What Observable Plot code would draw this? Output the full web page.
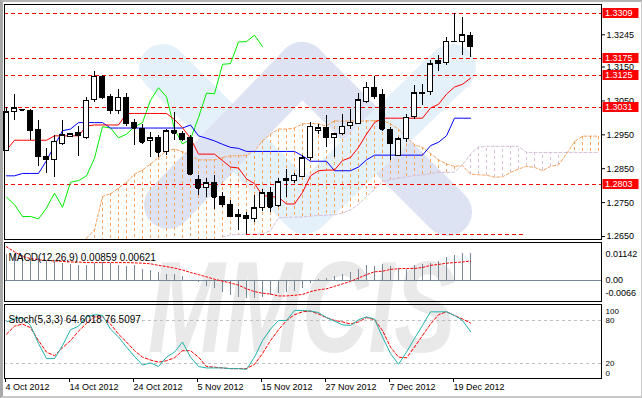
<!DOCTYPE html>
<html><head><meta charset="utf-8">
<script src="https://cdn.jsdelivr.net/npm/d3@7"></script>
<script src="https://cdn.jsdelivr.net/npm/@observablehq/plot@0.6"></script>
<style>
html,body{margin:0;padding:0;background:#fff;}
#wrap{position:relative;width:642px;height:398px;overflow:hidden;background:#fff;font-family:"Liberation Sans",Arial,sans-serif;}
.layer{position:absolute;left:0;}
#border{position:absolute;left:0;top:0;width:642px;height:398px;box-sizing:border-box;border-top:2px solid #b4b4b4;border-left:3px solid #a8a8a8;border-right:1px solid #c8c8c8;border-bottom:2px solid #c8c8c8;pointer-events:none;}
</style></head><body>
<div id="wrap">
  <svg id="bg" class="layer" style="top:0" width="642" height="398"></svg>
  <div id="main" class="layer" style="top:0"></div>
  <div id="macd" class="layer" style="top:240px"></div>
  <div id="stoch" class="layer" style="top:301px"></div>
  <div id="border"></div>
</div>
<script>
// ---------- data ----------
const dateLabels = ["4 Oct 2012","14 Oct 2012","24 Oct 2012","5 Nov 2012","15 Nov 2012","27 Nov 2012","7 Dec 2012","19 Dec 2012"];
const dateBars = [0,8,16,24,32,40,48,56];

const open  = [1.2903,1.3016,1.3022,1.3021,1.2964,1.2885,1.2877,1.2924,1.2944,1.2954,
               1.2940,1.3052,1.3121,1.3062,1.3019,1.3060,1.2984,1.2967,1.2931,1.2940,
               1.2898,1.2962,1.2952,1.2940,1.2818,1.2793,1.2808,1.2768,1.2744,1.2712,
               1.2710,1.2702,1.2734,1.2778,1.2741,1.2820,1.2813,1.2827,1.2881,1.2962,
               1.2970,1.2941,1.2952,1.2977,1.2981,1.3048,1.3089,1.3067,1.2965,1.2888,
               1.2937,1.3003,1.3073,1.3075,1.3168,1.3161,1.3224,1.3225,1.3241];
const high  = [1.3030,1.3070,1.3025,1.3026,1.2991,1.2911,1.2947,1.2991,1.2955,1.2976,
               1.3060,1.3138,1.3126,1.3070,1.3084,1.3073,1.2996,1.2981,1.2957,1.2947,
               1.2967,1.3016,1.2959,1.2947,1.2829,1.2820,1.2829,1.2780,1.2756,1.2731,
               1.2721,1.2771,1.2790,1.2795,1.2820,1.2849,1.2836,1.2888,1.2986,1.2981,
               1.3006,1.2955,1.3011,1.3026,1.3072,1.3104,1.3121,1.3085,1.2972,1.2942,
               1.3011,1.3094,1.3099,1.3170,1.3185,1.3237,1.3307,1.3296,1.3251];
const low   = [1.2900,1.2991,1.3020,1.2932,1.2856,1.2836,1.2823,1.2918,1.2941,1.2886,
               1.2936,1.3045,1.3055,1.3011,1.3011,1.2976,1.2918,1.2920,1.2883,1.2883,
               1.2888,1.2932,1.2930,1.2829,1.2771,1.2766,1.2731,1.2736,1.2707,1.2668,
               1.2656,1.2690,1.2725,1.2721,1.2736,1.2764,1.2805,1.2824,1.2874,1.2952,
               1.2913,1.2883,1.2947,1.2967,1.2979,1.3042,1.3055,1.2960,1.2874,1.2885,
               1.2927,1.2996,1.3035,1.3065,1.3138,1.3153,1.3222,1.3185,1.3178];
const close = [1.3016,1.3029,1.3023,1.2962,1.2886,1.2876,1.2929,1.2949,1.2952,1.2947,
               1.3050,1.3121,1.3060,1.3021,1.3060,1.2983,1.2969,1.2928,1.2940,1.2898,
               1.2960,1.2954,1.2935,1.2834,1.2793,1.2807,1.2766,1.2744,1.2709,1.2709,
               1.2702,1.2734,1.2778,1.2736,1.2810,1.2815,1.2829,1.2881,1.2974,1.2970,
               1.2941,1.2952,1.2974,1.2986,1.3052,1.3089,1.3062,1.2967,1.2923,1.2937,
               1.3001,1.3073,1.3071,1.3158,1.3160,1.3224,1.3225,1.3244,1.3210];

const tenkan = [1.2905,1.2934,1.2934,1.2934,1.2934,1.2934,1.2947,1.2947,1.2947,1.2947,
                1.2976,1.2979,1.2979,1.2979,1.2979,1.3013,1.3013,1.3013,1.3013,1.3013,
                1.3013,1.2995,1.2971,1.2940,1.2893,1.2893,1.2893,1.2874,1.2855,1.2852,
                1.2820,1.2806,1.2771,1.2768,1.2766,1.2746,1.2746,1.2780,1.2829,1.2844,
                1.2846,1.2846,1.2874,1.2883,1.2913,1.2952,1.2986,1.2999,1.2999,1.2999,
                1.2999,1.2999,1.2999,1.3029,1.3040,1.3070,1.3091,1.3099,1.3117];
const kijun  = [1.2829,1.2829,1.2836,1.2836,1.2836,1.2874,1.2918,1.2962,1.2967,1.2986,
                1.2986,1.2986,1.2986,1.2970,1.2970,1.2970,1.2970,1.2970,1.2970,1.2970,
                1.2970,1.2970,1.2970,1.2979,1.2947,1.2940,1.2932,1.2922,1.2913,1.2910,
                1.2901,1.2901,1.2901,1.2901,1.2901,1.2901,1.2901,1.2888,1.2872,1.2872,
                1.2872,1.2844,1.2844,1.2844,1.2855,1.2876,1.2890,1.2890,1.2890,1.2890,
                1.2890,1.2890,1.2890,1.2918,1.2928,1.2947,1.2999,1.2999,1.2999];
const chikouShift = 26;
const spanAStart = 10;
const spanA = [1.2645,1.2670,1.2768,1.2776,1.2793,1.2810,1.2834,1.2846,1.2864,1.2883,
               1.2903,1.2908,1.2900,1.2888,1.2876,1.2876,1.2876,1.2883,1.2888,1.2888,
               1.2890,1.2903,1.2932,1.2952,1.2967,1.2967,1.2970,1.2982,1.2984,1.2982,
               1.2976,1.2991,1.2990,1.2991,1.2990,1.2991,1.2992,1.2992,1.2982,1.2967,
               1.2942,1.2921,1.2913,1.2895,1.2876,1.2864,1.2857,1.2859,1.2834,1.2832,
               1.2831,1.2825,1.2826,1.2839,1.2849,1.2857,1.2854,1.2844,1.2857,1.2861,
               1.2894,1.2930,1.2946,1.2946,1.2946];
const spanBStart = 27;
const spanB = [1.2648,1.2655,1.2656,1.2657,1.2657,1.2657,1.2668,1.2705,1.2707,1.2707,
               1.2708,1.2710,1.2712,1.2713,1.2714,1.2719,1.2729,1.2745,1.2768,1.2790,
               1.2812,1.2818,1.2822,1.2826,1.2830,1.2832,1.2836,1.2839,1.2839,1.2840,
               1.2862,1.2893,1.2914,1.2916,1.2916,1.2916,1.2916,1.2916,1.2898,1.2898,
               1.2898,1.2898,1.2898,1.2898,1.2898,1.2898,1.2898,1.2898];

const levels = [1.3309,1.3175,1.3125,1.3031,1.2803];
const supportLevel = 1.2656, supportFromBar = 30, supportToBar = 64.6;
const priceTicks = [1.3245,1.3150,1.3050,1.2950,1.2850,1.2750,1.2650];

const macdHist = [0.0083,0.0083,0.0080,0.0080,0.0069,0.0060,0.0057,0.0053,0.0050,0.0047,
                  0.0047,0.0055,0.0057,0.0055,0.0046,0.0044,0.0046,0.0035,0.0030,0.0024,
                  0.0020,0.0017,0.0013,-0.0002,-0.0009,-0.0020,-0.0028,-0.0039,-0.0050,-0.0055,
                  -0.0059,-0.0059,-0.0056,-0.0048,-0.0042,-0.0040,-0.0037,-0.0026,-0.0010,0.0002,
                  0.0005,0.0013,0.0018,0.0026,0.0035,0.0046,0.0044,0.0051,0.0044,0.0037,
                  0.0035,0.0046,0.0051,0.0055,0.0059,0.0073,0.0079,0.0085,0.00859];
const macdSignal = [0.0108,0.0092,0.0077,0.0070,0.0066,0.0064,0.0062,0.0061,0.0059,0.0059,
                    0.0057,0.0057,0.0057,0.0057,0.0057,0.0057,0.0056,0.0055,0.0053,0.0048,
                    0.0044,0.0039,0.0033,0.0025,0.0018,0.0011,0.0003,-0.0003,-0.0009,-0.0016,
                    -0.0028,-0.0037,-0.0042,-0.0045,-0.0051,-0.0051,-0.0049,-0.0046,-0.0037,-0.0031,
                    -0.0028,-0.0020,-0.0012,-0.0004,0.0007,0.0018,0.0027,0.0029,0.0035,0.0037,
                    0.0038,0.0038,0.0041,0.0048,0.0051,0.0055,0.0057,0.0059,0.00621];
const macdAxis = ["0.01142","0.00","-0.0066"];
const macdAxisValues = [0.01142, 0, -0.0066];

const stochMain = [78,82,84,73,48,27,27,45,67,72,
                   85,88,87,68,57,43,30,18,21,16,
                   29,36,50,29,16,14,14,14,13,13,
                   12,29,52,68,80,80,94,94,93,91,
                   84,79,74,73,81,85,82,57,34,19,
                   36,55,73,92,92,92,87,80,64.6018];
const stochSignal = [61,72,75,70,52,36,31,42,52,65,
                     76,85,85,75,61,50,38,29,25,22,
                     24,28,38,38,29,16,15,14,13,13,
                     13,19,34,52,67,80,88,92,93,89,
                     84,80,78,75,78,84,81,66,43,29,
                     28,43,59,75,88,92,87,82,76.5097];
const stochLevels = [80,20];
const watermarkText = "MMCIS";

// ---------- build ----------
const FONT = '"Liberation Sans", Arial, sans-serif';
const xDomain = [-0.25, 74.375];
const yDomain = [1.26412, 1.33344];
const ORANGE = "#f4a460", THISTLE = "#d8bfd8";

const bars = open.map((o,i)=>({i, open:o, high:high[i], low:low[i], close:close[i],
  tenkan:tenkan[i], kijun:kijun[i], hist:macdHist[i], signal:macdSignal[i], k:stochMain[i], d:stochSignal[i]}));
const chikou = close.slice(chikouShift).map((v,j)=>({i:j, v}));
const cloud = spanA.map((a,j)=>{ const i=j+spanAStart; const b = i>=spanBStart ? spanB[i-spanBStart] : null; return {i,a,b}; });

const common = {width:642, marginLeft:4, marginRight:41,
  x:{domain:xDomain, axis:null, label:null},
  style:{background:"transparent", fontFamily:FONT, fontSize:"9px", color:"black"}};

const mainPlot = Plot.plot({...common, height:240, marginTop:4, marginBottom:1,
  y:{domain:yDomain, axis:null, label:null},
  marks:[
    Plot.ruleX(cloud, {x:"i", y1:"a", y2:d=>d.b==null?yDomain[0]:d.b, stroke:d=>(d.b==null||d.a>=d.b)?ORANGE:THISTLE, strokeDasharray:"3,3", clip:true, shapeRendering:"crispEdges"}),
    Plot.line(cloud, {x:"i", y:"a", stroke:ORANGE, strokeWidth:1, strokeDasharray:"3,2", clip:true}),
    Plot.line(cloud.filter(d=>d.b!=null), {x:"i", y:"b", stroke:THISTLE, strokeWidth:1, strokeDasharray:"3,2", clip:true}),
    Plot.ruleY(levels, {stroke:"#ff0000", strokeDasharray:"4,3", shapeRendering:"crispEdges"}),
    Plot.ruleY([supportLevel], {x1:supportFromBar, x2:supportToBar, stroke:"#ff0000", strokeDasharray:"4,3", shapeRendering:"crispEdges"}),
    Plot.line(chikou, {x:"i", y:"v", stroke:"#00ee00", strokeWidth:1}),
    Plot.line(bars, {x:"i", y:"kijun", stroke:"#0000ff", strokeWidth:1}),
    Plot.line(bars, {x:"i", y:"tenkan", stroke:"#ff0000", strokeWidth:1}),
    Plot.ruleX(bars, {x:"i", y1:"low", y2:"high", stroke:"black", shapeRendering:"crispEdges"}),
    Plot.rect(bars, {x1:d=>d.i-0.31, x2:d=>d.i+0.31, y1:"open", y2:"close", fill:d=>d.close>=d.open?"white":"black", stroke:"black", shapeRendering:"crispEdges"}),
    Plot.ruleY(bars, {y:"close", x1:d=>d.i-0.31, x2:d=>d.i+0.31, stroke:"black", shapeRendering:"crispEdges"}),
    Plot.frame({stroke:"black", shapeRendering:"crispEdges"}),
    Plot.axisY({anchor:"right", label:null, ticks:priceTicks, tickFormat:d=>d.toFixed(4), tickSize:3, tickPadding:2, fontSize:9, stroke:"black"})
  ]});
document.getElementById("main").appendChild(mainPlot);

// red level labels in the right margin, placed with the plot's own y scale
{
  const ys = mainPlot.scale("y");
  const svg = d3.select(mainPlot);
  const g = svg.append("g");
  levels.forEach(v=>{
    const y = Math.round(ys.apply(v));
    g.append("rect").attr("x",602.5).attr("y",y-5).attr("width",36).attr("height",10).attr("fill","#ff0000");
    g.append("text").attr("x",605).attr("y",y).attr("dy","0.35em").attr("fill","white")
      .attr("font-size",9).attr("font-family",FONT).attr("text-anchor","start").text(v.toFixed(4));
  });
}

const macdPlot = Plot.plot({...common, height:62, marginTop:2, marginBottom:1,
  y:{domain:[-0.0069,0.0122], axis:null, label:null},
  marks:[
    Plot.ruleY([0], {stroke:"#778899", shapeRendering:"crispEdges"}),
    Plot.ruleX(bars, {x:"i", y1:0, y2:"hist", stroke:"#778899", shapeRendering:"crispEdges"}),
    Plot.line(bars, {x:"i", y:"signal", stroke:"#ff0000", strokeWidth:1, strokeDasharray:"2,2"}),
    Plot.frame({stroke:"black", shapeRendering:"crispEdges"}),
    Plot.text([`MACD(12,26,9) ${macdHist[macdHist.length-1].toFixed(5)} ${macdSignal[macdSignal.length-1].toFixed(5)}`], {frameAnchor:"top-left", dx:4, dy:11, textAnchor:"start", fontSize:10, fill:"black"}),
    Plot.text([macdAxis[0]], {frameAnchor:"top-right", dx:4, dy:8, textAnchor:"start", fill:"black"}),
    Plot.text([macdAxisValues[1]], {y:d=>d, text:()=>macdAxis[1], frameAnchor:"right", dx:4, textAnchor:"start", fill:"black"}),
    Plot.text([macdAxis[2]], {frameAnchor:"bottom-right", dx:4, dy:-6, textAnchor:"start", fill:"black"})
  ]});
document.getElementById("macd").appendChild(macdPlot);

const stochPlot = Plot.plot({...common, height:97, marginTop:3, marginBottom:20,
  y:{domain:[-0.7,102.2], axis:null, label:null},
  marks:[
    Plot.ruleY(stochLevels, {stroke:"#c0c0c0", strokeDasharray:"3,3", shapeRendering:"crispEdges"}),
    Plot.line(bars, {x:"i", y:"d", stroke:"#ff0000", strokeWidth:1, strokeDasharray:"3,2"}),
    Plot.line(bars, {x:"i", y:"k", stroke:"#20b2aa", strokeWidth:1}),
    Plot.frame({stroke:"black", shapeRendering:"crispEdges"}),
    Plot.text([`Stoch(5,3,3) ${stochMain[stochMain.length-1].toFixed(4)} ${stochSignal[stochSignal.length-1].toFixed(4)}`], {frameAnchor:"top-left", dx:4, dy:11, textAnchor:"start", fontSize:10, fill:"black"}),
    Plot.text(["100"], {frameAnchor:"top-right", dx:4, dy:4, textAnchor:"start", fontSize:8, fill:"black"}),
    Plot.text(stochLevels, {y:d=>d, text:d=>String(d), frameAnchor:"right", dx:4, textAnchor:"start", fontSize:8, fill:"black"}),
    Plot.text(["0"], {frameAnchor:"bottom-right", dx:4, dy:-3, textAnchor:"start", fontSize:8, fill:"black"}),
    Plot.axisX({anchor:"bottom", label:null, ticks:dateBars, tickFormat:i=>dateLabels[dateBars.indexOf(i)], tickSize:4, tickPadding:1, textAnchor:"start", dx:-1, fontSize:9, stroke:"black"})
  ]});
document.getElementById("stoch").appendChild(stochPlot);

// ---------- faint watermark (decoration behind the chart) ----------
{
  const bg = d3.select("#bg");
  const clip = bg.append("clipPath").attr("id","mainclip");
  clip.append("rect").attr("x",4).attr("y",4).attr("width",597).attr("height",235);
  const g = bg.append("g").attr("clip-path","url(#mainclip)").attr("fill","none").attr("stroke-linecap","round").attr("stroke-width",48);
  const band = (pts,c)=>g.append("polyline").attr("points",pts).attr("stroke",c).attr("stroke-linejoin","round");
  band("302,66 448,212", "#dde3f2");
  band("163,68 305,210 452,68", "#e5f1fa");
  band("168,205 302,66", "#dde3f2");
  bg.append("text").attr("transform","translate(148,352) scale(0.71,1)").attr("font-family",FONT).attr("font-style","italic").attr("font-weight","bold")
    .attr("font-size",130).attr("fill","#e9e9e9").text(watermarkText);
}
</script>
</body></html>
